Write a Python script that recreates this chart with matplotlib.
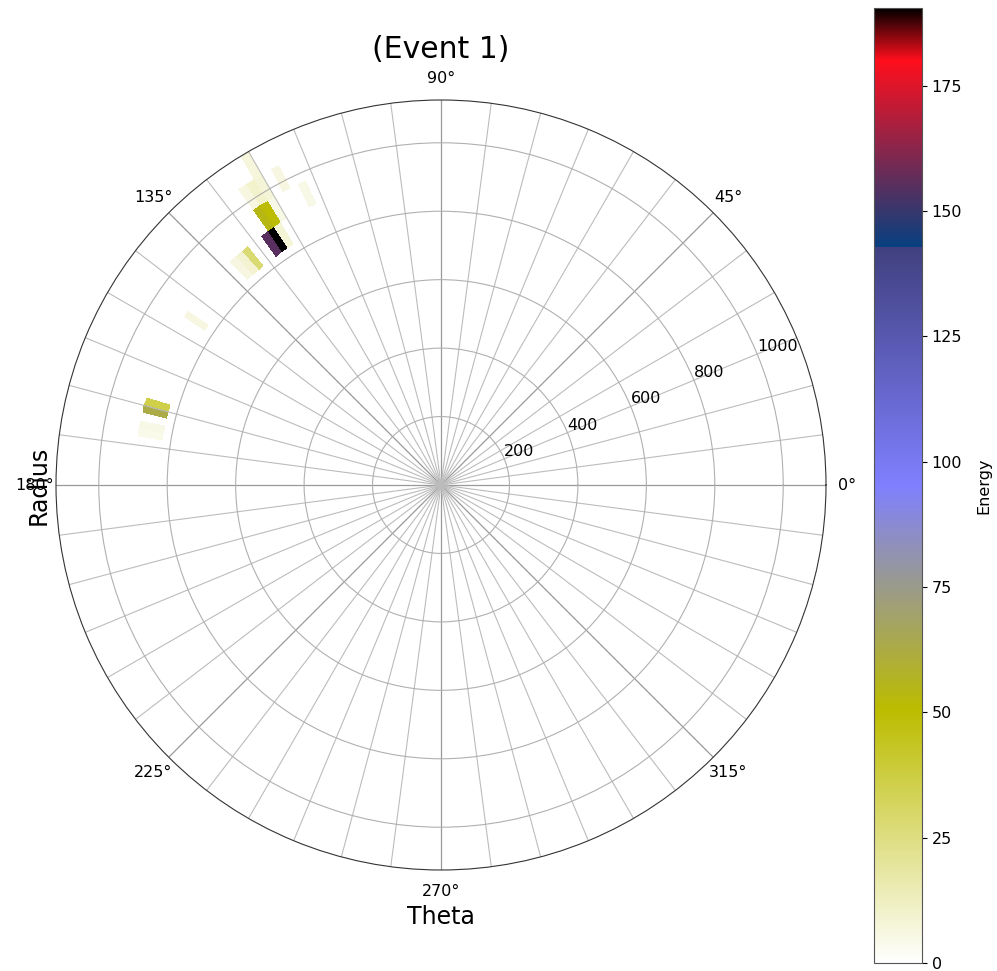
import numpy as np
import matplotlib
matplotlib.use('Agg')
import matplotlib.pyplot as plt
from matplotlib.colors import ListedColormap

# bin edges of the event display
theta_edges_deg = np.arange(0, 360.1, 1.5)
radius_edges = np.linspace(0, 1125, 16)

# hit cells: angle (deg), radius, energy
hit_theta = [123.75, 125.25, 122.25, 123.75, 122.25, 120.75, 122.25, 123.75,
             120.75, 120.75, 117.75, 114.75, 129.75, 131.25, 132.75, 146.25,
             164.25, 165.75, 168.75, 170.25]
hit_radius = [862.5, 862.5, 937.5, 937.5, 862.5, 937.5, 1012.5, 1012.5,
              1012.5, 1087.5, 1012.5, 937.5, 862.5, 862.5, 862.5, 862.5,
              862.5, 862.5, 862.5, 862.5]
hit_energy = [190.5, 155, 50, 54, 8, 5, 10, 6,
              8, 7, 6, 5, 28, 9, 6, 6,
              36, 63, 5, 4]

energy = np.zeros((len(radius_edges) - 1, len(theta_edges_deg) - 1))
ti = np.digitize(hit_theta, theta_edges_deg) - 1
ri = np.digitize(hit_radius, radius_edges) - 1
energy[ri, ti] = hit_energy

vmax = 190.5

# gist_stern_r with the low end faded linearly into white
base = plt.get_cmap('gist_stern_r').resampled(2048)
f = np.linspace(0, 1, 2048)
colors = base(f)
f0 = 50 / vmax
ref = np.array(base(f0))
low = f < f0
a = (f[low] / f0)[:, None]
colors[low, :3] = (1 - a) + a * ref[:3]
cmap = ListedColormap(colors)

fig = plt.figure(figsize=(9.97, 9.71), dpi=100)
ax = fig.add_axes([56 / 997, 101 / 971, 770 / 997, 770 / 971], projection='polar')

pcm = ax.pcolormesh(np.radians(theta_edges_deg), radius_edges, energy,
                    cmap=cmap, vmin=0, vmax=vmax, shading='flat')
ax.set_ylim(0, 1125)
ax.set_yticks([200, 400, 600, 800, 1000])
ax.set_xticks(np.radians(np.arange(0, 360, 7.5)), minor=True)
ax.xaxis.grid(True, which='minor', color='#bcbcbc', lw=0.8)
ax.xaxis.grid(True, which='major', color='#999999', lw=0.9)
ax.yaxis.grid(True, color='#b0b0b0', lw=0.8)
ax.tick_params(axis='x', which='both', length=0, pad=8.5)
ax.tick_params(labelsize=11.5)
ax.spines['polar'].set_color('#333333')

ax.set_title('(Event 1)', fontsize=21.5, pad=9.5)
ax.set_xlabel('Theta', fontsize=17)
ax.set_ylabel('Radius', fontsize=17)

cax = fig.add_axes([874 / 997, 8 / 971, 48 / 997, 955 / 971])
cb = fig.colorbar(pcm, cax=cax)
cb.set_label('Energy', fontsize=11.5, labelpad=10)
cb.ax.tick_params(labelsize=11.5)
cb.outline.set_edgecolor('#555555')

fig.savefig('out.png', dpi=100)
